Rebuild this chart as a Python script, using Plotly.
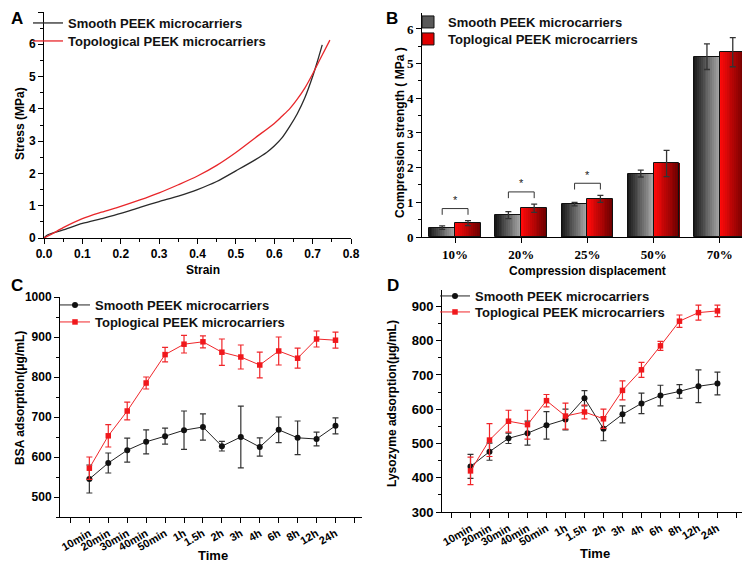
import plotly.graph_objects as go

# ---------------- Data ----------------
# Panel A: stress-strain curves
strain_smooth = [0.0, 0.01, 0.05, 0.10, 0.15, 0.20, 0.25, 0.30, 0.35, 0.40, 0.45, 0.50, 0.55,
                 0.58, 0.60, 0.62, 0.64, 0.66, 0.68, 0.70, 0.712, 0.725]
stress_smooth = [0.0, 0.10, 0.25, 0.45, 0.60, 0.76, 0.95, 1.13, 1.30, 1.50, 1.75, 2.08, 2.42,
                 2.65, 2.85, 3.10, 3.45, 3.85, 4.35, 5.00, 5.45, 5.98]
strain_topo = [0.0, 0.02, 0.05, 0.10, 0.15, 0.20, 0.25, 0.30, 0.35, 0.40, 0.45, 0.50, 0.55,
               0.60, 0.62, 0.64, 0.66, 0.68, 0.70, 0.72, 0.745]
stress_topo = [0.0, 0.12, 0.32, 0.60, 0.80, 0.98, 1.18, 1.40, 1.65, 1.92, 2.25, 2.65, 3.10,
               3.55, 3.77, 4.00, 4.30, 4.65, 5.08, 5.55, 6.13]

# Panel B: compression strength
disp_labels = ['10%', '20%', '25%', '50%', '70%']
comp_smooth = [0.27, 0.63, 0.95, 1.83, 5.20]
comp_smooth_err = [0.05, 0.10, 0.05, 0.10, 0.37]
comp_topo = [0.40, 0.83, 1.10, 2.12, 5.33]
comp_topo_err = [0.07, 0.12, 0.10, 0.38, 0.42]
sig_groups = [0, 1, 2]

# Panels C and D: adsorption over time
time_labels = ['10min', '20min', '30min', '40min', '50min', '1h', '1.5h', '2h', '3h', '4h',
               '6h', '8h', '12h', '24h']
bsa_smooth = [545, 585, 617, 638, 652, 667, 675, 627, 650, 625, 668, 648, 645, 678]
bsa_smooth_err = [35, 25, 30, 30, 20, 48, 33, 12, 77, 23, 32, 42, 17, 20]
bsa_topo = [572, 653, 715, 785, 856, 882, 888, 862, 850, 830, 865, 847, 895, 892]
bsa_topo_err = [28, 28, 22, 15, 18, 22, 15, 33, 30, 32, 35, 25, 20, 20]
lys_smooth = [433, 476, 515, 530, 553, 570, 632, 543, 585, 617, 640, 652, 667, 675]
lys_smooth_err = [35, 25, 15, 35, 40, 30, 22, 35, 25, 30, 30, 20, 48, 33]
lys_topo = [420, 510, 565, 555, 625, 580, 592, 572, 655, 715, 785, 857, 882, 887]
lys_topo_err = [40, 48, 32, 42, 18, 38, 20, 28, 28, 22, 13, 18, 22, 17]

# ---------------- Helpers ----------------
# The page body has an 8px margin; the figure is sized to fill the rest of the window.
OFF = 8
W, H = 750 - OFF, 567 - OFF
FONT = 'Liberation Sans, Arial, sans-serif'
SERIF = 'Liberation Serif, Times New Roman, serif'


def fx(p):
    return (p - OFF) / W


def fy(p):
    return 1 - (p - OFF) / H


def px_x(a, b):
    return [fx(a), fx(b)]


def px_y(top, bottom):
    return [fy(bottom), fy(top)]


def blend(c1, c2, t):
    return 'rgb(%d,%d,%d)' % tuple(round(c1[k] + (c2[k] - c1[k]) * t) for k in range(3))


fig = go.Figure()

# ---------------- Panel A ----------------
fig.add_trace(go.Scatter(x=strain_smooth, y=stress_smooth, mode='lines', name='Smooth PEEK microcarriers',
                         line=dict(color='#2a2a2a', width=1.3, shape='spline', smoothing=0.8),
                         xaxis='x', yaxis='y', legend='legend'))
fig.add_trace(go.Scatter(x=strain_topo, y=stress_topo, mode='lines', name='Topological PEEK microcarriers',
                         line=dict(color='#e8262a', width=1.3, shape='spline', smoothing=0.8),
                         xaxis='x', yaxis='y', legend='legend2'))

# ---------------- Panel B ----------------
bw = 0.39
N = 14
xb = list(range(len(disp_labels)))
series_b = [
    (comp_smooth, comp_smooth_err, -bw, (25, 25, 25), (165, 165, 165), 'Smooth PEEK microcarriers',
     '#5a5a5a', 'legend3'),
    (comp_topo, comp_topo_err, 0.0, (255, 10, 10), (110, 0, 0), 'Toplogical PEEK microcarriers',
     '#e00000', 'legend4'),
]
for vals, errs, start, c1, c2, name, legcol, lg in series_b:
    for i in range(N):
        fig.add_trace(go.Bar(x=xb, y=vals, width=bw / N * 1.02, offset=start + i * bw / N,
                             marker=dict(color=blend(c1, c2, i / (N - 1)), line=dict(width=0)),
                             xaxis='x2', yaxis='y2', showlegend=False, hoverinfo='skip'))
    fig.add_trace(go.Bar(x=xb, y=vals, width=bw, offset=start,
                         marker=dict(color='rgba(0,0,0,0)', line=dict(color='#111', width=1)),
                         error_y=dict(type='data', array=errs, color='#333', thickness=1.3, width=3),
                         xaxis='x2', yaxis='y2', showlegend=False))
    fig.add_trace(go.Bar(x=[None], y=[None], name=name,
                         marker=dict(color=legcol, line=dict(color='#111', width=1)),
                         xaxis='x2', yaxis='y2', legend=lg))

# significance brackets
for g in sig_groups:
    top = max(comp_smooth[g] + comp_smooth_err[g], comp_topo[g] + comp_topo_err[g]) + 0.35
    x0, x1 = g - bw / 2, g + bw / 2
    fig.add_shape(type='path', xref='x2', yref='y2',
                  path=f'M {x0} {top - 0.18} L {x0} {top} L {x1} {top} L {x1} {top - 0.18}',
                  line=dict(color='#333', width=1))
    fig.add_annotation(x=g, y=top + 0.02, xref='x2', yref='y2', text='*', showarrow=False,
                       yanchor='bottom', font=dict(size=11, color='#222', family=FONT))

# ---------------- Panels C and D ----------------
xt = list(range(len(time_labels)))
for (sm, sme, tp, tpe, xa, ya, lg1, lg2) in [
        (bsa_smooth, bsa_smooth_err, bsa_topo, bsa_topo_err, 'x3', 'y3', 'legend5', 'legend6'),
        (lys_smooth, lys_smooth_err, lys_topo, lys_topo_err, 'x4', 'y4', 'legend7', 'legend8')]:
    fig.add_trace(go.Scatter(x=xt, y=sm, mode='lines+markers', name='Smooth PEEK microcarriers',
                             line=dict(color='#222', width=1),
                             marker=dict(symbol='circle', size=6, color='#111'),
                             error_y=dict(type='data', array=sme, color='#333', thickness=1.2, width=3),
                             xaxis=xa, yaxis=ya, legend=lg1))
    fig.add_trace(go.Scatter(x=xt, y=tp, mode='lines+markers', name='Toplogical PEEK microcarriers',
                             line=dict(color='#f0262a', width=1),
                             marker=dict(symbol='square', size=5.5, color='#f0181c'),
                             error_y=dict(type='data', array=tpe, color='#f0262a', thickness=1.2, width=3),
                             xaxis=xa, yaxis=ya, legend=lg2))

# ---------------- Layout ----------------
tickf = dict(family=FONT, size=12, color='black', weight='bold')
common = dict(showline=True, linecolor='black', linewidth=1, ticks='outside', ticklen=5,
              tickcolor='black', showgrid=False, zeroline=False, tickfont=tickf, automargin=False)

x_ticks_t = [-1] + xt + [len(xt)]
x_text_t = [''] + time_labels + ['']

legfont = dict(family=FONT, size=13, color='#111', weight='bold')


def leg(text_x, row_y):
    return dict(x=fx(text_x - 40), y=fy(row_y), xanchor='left', yanchor='middle',
                bgcolor='rgba(0,0,0,0)', font=legfont, itemwidth=30)


fig.update_layout(
    width=W, height=H, margin=dict(l=0, r=0, t=0, b=0, pad=0, autoexpand=False),
    paper_bgcolor='white', plot_bgcolor='white', barmode='overlay', bargap=0,
    font=dict(family=FONT, color='black'),
    xaxis=dict(domain=px_x(44, 351), range=[0, 0.8], dtick=0.1, tickformat='.1f', anchor='y',
               minor=dict(ticks='outside', ticklen=3, dtick=0.05, tickcolor='black'), **common),
    yaxis=dict(domain=px_y(12, 238), range=[0, 7], dtick=1, anchor='x',
               minor=dict(ticks='outside', ticklen=3, dtick=0.5, tickcolor='black'), **common),
    xaxis2=dict(domain=px_x(422, 747), range=[-0.5, 4.41], tickvals=xb, ticktext=disp_labels, anchor='y2',
                **{**common, 'tickfont': dict(family=SERIF, size=13, color='black', weight='bold')}),
    yaxis2=dict(domain=px_y(13, 237), range=[0, 6.46], dtick=1, anchor='x2',
                minor=dict(ticks='outside', ticklen=3, dtick=0.5, tickcolor='black'),
                **{**common, 'tickfont': dict(family=SERIF, size=13, color='black', weight='bold')}),
    xaxis3=dict(domain=px_x(60, 362), range=[-1.55, 14.4], tickvals=x_ticks_t, ticktext=x_text_t,
                tickangle=-30, anchor='y3',
                **{**common, 'tickfont': dict(family=FONT, size=11, color='black', weight='bold')}),
    yaxis3=dict(domain=px_y(297, 517), range=[450, 1000], dtick=100, anchor='x3',
                minor=dict(ticks='outside', ticklen=3, dtick=50, tickcolor='black'), **common),
    xaxis4=dict(domain=px_x(442, 745), range=[-1.5, 14.45], tickvals=x_ticks_t, ticktext=x_text_t,
                tickangle=-30, anchor='y4',
                **{**common, 'tickfont': dict(family=FONT, size=11, color='black', weight='bold')}),
    yaxis4=dict(domain=px_y(290, 512), range=[300, 948], dtick=100, anchor='x4',
                minor=dict(ticks='outside', ticklen=3, dtick=50, tickcolor='black'),
                **{**common, 'tickfont': dict(family=FONT, size=13, color='black', weight='bold')}),
    legend=leg(68, 23), legend2=leg(68, 41),
    legend3=leg(448, 22), legend4=leg(448, 39),
    legend5=leg(95, 305), legend6=leg(95, 322),
    legend7=leg(475, 296), legend8=leg(475, 312),
)


# panel letters and axis titles
def txt(x, y, s, size=12, angle=0):
    fig.add_annotation(x=fx(x), y=fy(y), xref='paper', yref='paper', text=s, showarrow=False,
                       textangle=angle, xanchor='center', yanchor='middle',
                       font=dict(family=FONT, size=size, color='black', weight='bold'))


txt(17, 18, 'A', 17)
txt(392, 18, 'B', 17)
txt(17, 286, 'C', 17)
txt(393, 286, 'D', 17)
txt(203, 270, 'Strain', 12)
txt(20, 124, 'Stress (MPa)', 12, -90)
txt(587, 271, 'Compression displacement', 12)
txt(400, 133, 'Compression strength ( MPa )', 12, -90)
txt(213, 555, 'Time', 13)
txt(20, 398, 'BSA adsorption(μg/mL)', 12, -90)
txt(595, 553, 'Time', 13)
txt(392, 404, 'Lysozyme adsorption(μg/mL)', 12, -90)

fig.write_html('out.html')
